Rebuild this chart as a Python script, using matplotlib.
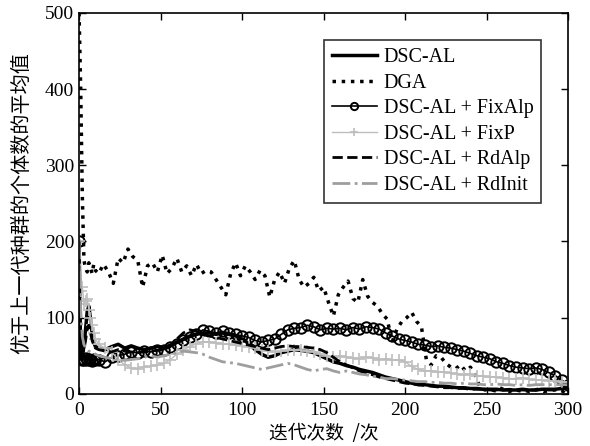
import numpy as np
import matplotlib.pyplot as plt

plt.rcParams['font.family'] = ['Liberation Serif', 'Noto Sans CJK SC']

# iteration grid: every step at the start, then every 4th iteration
x_start = list(range(0, 11))
x_main = x_start + list(range(12, 301, 4))
x_dga = x_start + list(range(12, 301, 3))

dga = [500, 400, 260, 175, 165, 160, 172, 165, 158, 170, 162,
       158, 170, 160, 145, 178, 172, 190, 180, 175, 140,
       168, 172, 160, 182, 158, 165, 178, 160, 168, 155,
       170, 158, 162, 160, 150, 140, 130, 158, 172, 155,
       168, 160, 150, 162, 155, 127, 150, 160, 145, 165,
       175, 150, 140, 145, 153, 135, 140, 120, 102, 130,
       140, 148, 125, 120, 150, 128, 120, 115, 105, 98,
       68, 85, 95, 100, 107, 95, 88, 45, 38, 50,
       48, 40, 35, 33, 38, 30, 35, 25, 8, 5,
       6, 4, 8, 5, 3, 6, 4, 5, 3, 5,
       6, 3, 4, 5, 6, 3, 12]

dsc_al = [200, 48, 52, 62, 85, 108, 115, 98, 80, 68, 62,
          60, 58, 62, 65, 60, 63, 60, 58, 60, 62,
          60, 64, 68, 72, 76, 78, 80, 80, 78, 80,
          78, 76, 72, 66, 58, 52, 48, 50, 54, 56,
          58, 57, 56, 54, 50, 46, 42, 40, 37, 35,
          32, 30, 28, 25, 22, 20, 18, 16, 14, 12,
          12, 11, 10, 10, 9, 8, 8, 7, 7, 6,
          6, 6, 5, 5, 5, 6, 5, 5, 6, 6,
          6, 7, 10]

fix_alp = [200, 46, 44, 45, 47, 44, 46, 45, 43, 46, 44,
           45, 42, 48, 50, 52, 55, 54, 56, 55, 57,
           58, 62, 66, 70, 74, 78, 84, 82, 80, 82,
           80, 78, 76, 74, 70, 68, 70, 72, 78, 84,
           86, 87, 90, 88, 84, 86, 85, 86, 84, 87,
           85, 88, 87, 85, 80, 76, 72, 70, 68, 65,
           64, 62, 63, 61, 60, 58, 56, 53, 50, 48,
           46, 42, 40, 37, 35, 34, 33, 34, 32, 28,
           24, 18, 12]

fix_p = [200, 135, 140, 118, 122, 125, 110, 100, 90, 80, 72,
         65, 60, 55, 45, 38, 34, 33, 35, 36, 38,
         40, 45, 52, 58, 62, 66, 68, 68, 67, 66,
         65, 64, 63, 62, 60, 58, 56, 55, 56, 57,
         58, 57, 56, 55, 52, 50, 48, 50, 48, 47,
         46, 48, 47, 45, 46, 44, 45, 42, 36, 32,
         30, 30, 28, 29, 27, 26, 25, 26, 24, 23,
         22, 22, 21, 20, 20, 21, 19, 18, 18, 17,
         17, 16, 15]

rd_alp = [200, 45, 50, 58, 70, 85, 90, 80, 70, 64, 60,
          58, 56, 55, 58, 56, 55, 54, 55, 56, 57,
          58, 62, 72, 80, 84, 82, 78, 76, 74, 72,
          70, 68, 66, 64, 62, 60, 58, 60, 62, 63,
          62, 62, 61, 60, 58, 54, 48, 42, 38, 34,
          30, 27, 25, 22, 20, 18, 16, 14, 13, 12,
          11, 10, 9, 8, 8, 7, 7, 6, 6, 6,
          5, 5, 5, 6, 5, 5, 5, 5, 6, 5,
          5, 6, 8]

rd_init = [200, 110, 75, 65, 60, 58, 56, 55, 55, 54, 52,
           50, 48, 46, 45, 44, 45, 46, 48, 50, 48,
           50, 52, 54, 56, 55, 54, 52, 48, 45, 42,
           41, 40, 38, 36, 34, 32, 34, 36, 38, 40,
           38, 35, 32, 30, 32, 33, 30, 28, 30, 28,
           26, 25, 23, 22, 20, 20, 19, 18, 17, 16,
           16, 15, 15, 14, 14, 13, 14, 13, 13, 12,
           12, 13, 12, 12, 11, 12, 11, 12, 12, 12,
           12, 12, 12]

fig = plt.figure(figsize=(5.9, 4.46), dpi=100)
ax = fig.add_axes([0.134, 0.117, 0.829, 0.854])

ax.plot(x_main, dsc_al, color='black', lw=2.5, label='DSC-AL')
ax.plot(x_dga, dga, color='black', lw=2.5, ls=':', label='DGA')
ax.plot(x_main, fix_alp, color='black', lw=1.2, marker='o', ms=7.5,
        mfc='none', mec='black', mew=1.4, label='DSC-AL + FixAlp')
ax.plot(x_main, fix_p, color='#bdbdbd', lw=1.0, marker='+', ms=8,
        mew=1.2, label='DSC-AL + FixP')
ax.plot(x_main, rd_alp, color='black', lw=2.0, ls='--', label='DSC-AL + RdAlp')
ax.plot(x_main, rd_init, color='#9e9e9e', lw=2.0, ls='-.', label='DSC-AL + RdInit')

ax.set_xlim(0, 300)
ax.set_ylim(0, 500)
ax.set_xticks(np.arange(0, 301, 50))
ax.set_yticks(np.arange(0, 501, 100))
ax.tick_params(direction='in', length=5, width=1, labelsize=14,
               top=True, right=True)
ax.tick_params(axis='x', pad=6)
for s in ax.spines.values():
    s.set_linewidth(1.2)

ax.set_xlabel('迭代次数  /次', family=['Noto Sans CJK SC'], fontsize=13.5, labelpad=3)
ax.set_ylabel('优于上一代种群的个体数的平均值', family=['Noto Sans CJK SC'],
              fontsize=14.5, labelpad=9)

leg = ax.legend(loc='upper right', bbox_to_anchor=(0.945, 0.929), fontsize=14.4,
                frameon=True, fancybox=False, edgecolor='black',
                handlelength=2.25, handletextpad=0.35, labelspacing=0.33,
                borderpad=0.4, borderaxespad=0, markerscale=0.7)
leg.get_frame().set_linewidth(1.2)

fig.savefig('out.png', dpi=100)
